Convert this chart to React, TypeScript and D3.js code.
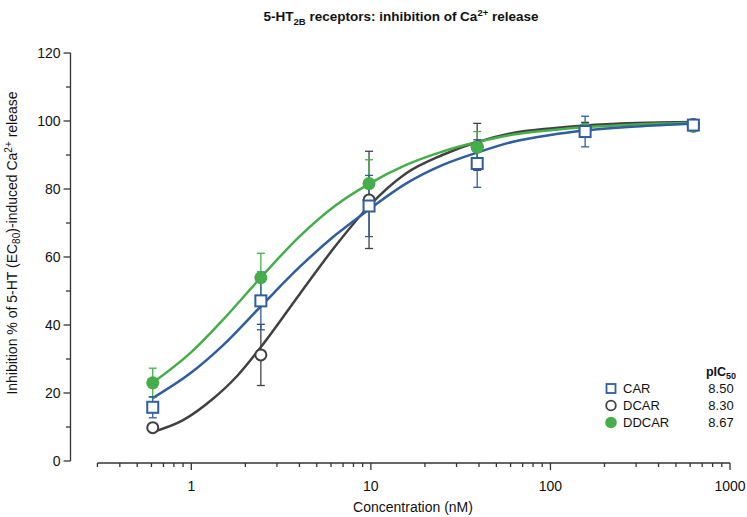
import React from "react";
import * as d3 from "d3";

// ---- data ----
const concentrations = [0.61, 2.44, 9.77, 39.1, 156, 625];
const carMean = [15.8, 47.1, 75.0, 87.5, 96.9, 98.8];
const carSem = [3.1, 8.5, 9.0, 7.0, 4.5, 1.0];
const dcarMean = [9.8, 31.2, 76.8, 92.4, 97.6, 99.0];
const dcarSem = [1.0, 9.0, 14.3, 6.9, 2.0, 0.8];
const ddcarMean = [23.0, 53.9, 81.6, 92.3, 97.6, 98.4];
const ddcarSem = [4.3, 7.2, 7.0, 4.6, 1.5, 0.8];

// fitted curves
const carCurveX = [0.61, 1, 1.5, 2.44, 4, 6.3, 9.77, 15.6, 25, 39.1, 62, 100, 156, 300, 625];
const carCurveY = [18.5, 26, 34, 45.5, 57, 66.3, 74, 81.5, 87, 90.7, 93.9, 95.9, 97.2, 98.4, 99.2];
const dcarCurveX = [0.61, 0.9, 1.3, 1.8, 2.44, 4, 6.3, 9.77, 15.6, 25, 39.1, 62, 100, 156, 300, 625];
const dcarCurveY = [8.5, 12, 18, 25, 33.5, 49, 63, 75, 84.5, 90, 93.8, 96.5, 97.8, 98.7, 99.4, 99.7];
const ddcarCurveX = [0.61, 1, 1.5, 2.44, 4, 6.3, 9.77, 15.6, 25, 39.1, 62, 100, 156, 300, 625];
const ddcarCurveY = [23, 32, 41.5, 54, 66, 75, 81.5, 87, 91, 93.8, 96, 97.3, 98.2, 99, 99.5];

const legendNames = ["CAR", "DCAR", "DDCAR"];
const legendPIC50 = ["8.50", "8.30", "8.67"];

const yTicks = [0, 20, 40, 60, 80, 100, 120];
const yMinorTicks = [10, 30, 50, 70, 90, 110];
const xMajorTicks = [1, 10, 100, 1000];
const xMinorTicks = [
  0.3, 0.4, 0.5, 0.6, 0.7, 0.8, 0.9,
  2, 3, 4, 5, 6, 7, 8, 9,
  20, 30, 40, 50, 60, 70, 80, 90,
  200, 300, 400, 500, 600, 700, 800, 900,
];

const BLUE = "#2f5d9e";
const DARK = "#404040";
const GREEN = "#46ad4b";
const FONT = "Arial, 'Liberation Sans', Helvetica, sans-serif";

export default function App() {
  const W = 747, H = 517;
  const x = d3.scaleLog().domain([0.3, 1000]).range([97.4, 730]);
  const y = d3.scaleLinear().domain([0, 120]).range([461, 53]);
  const xAxisY = 463;
  const yAxisX = 70.5;

  const line = d3
    .line<[number, number]>()
    .x((d) => x(d[0]))
    .y((d) => y(d[1]))
    .curve(d3.curveMonotoneX);

  const series = [
    { name: "DCAR", color: DARK, mean: dcarMean, sem: dcarSem, cx: dcarCurveX, cy: dcarCurveY, shape: "circle" },
    { name: "DDCAR", color: GREEN, mean: ddcarMean, sem: ddcarSem, cx: ddcarCurveX, cy: ddcarCurveY, shape: "filled" },
    { name: "CAR", color: BLUE, mean: carMean, sem: carSem, cx: carCurveX, cy: carCurveY, shape: "square" },
  ];

  const marker = (shape: string, color: string, px: number, py: number, key: string) => {
    if (shape === "square")
      return <rect key={key} x={px - 5.5} y={py - 5.5} width={11} height={11} fill="#fff" stroke={color} strokeWidth={2} />;
    if (shape === "circle")
      return <circle key={key} cx={px} cy={py} r={5.5} fill="#fff" stroke={color} strokeWidth={2} />;
    return <circle key={key} cx={px} cy={py} r={6.5} fill={color} stroke="none" />;
  };

  return (
    <svg width={W} height={H} style={{ position: "absolute", left: 0, top: 0, background: "#fff" }} fontFamily={FONT}>
      {/* Title */}
      <text x={401} y={21} textAnchor="middle" fontSize={13.5} fontWeight="bold" fill="#111">
        5-HT<tspan fontSize={9.5} dy={4}>2B</tspan>
        <tspan dy={-4}> receptors: inhibition of Ca</tspan>
        <tspan fontSize={9.5} dy={-5}>2+</tspan>
        <tspan dy={5}> release</tspan>
      </text>

      {/* Y axis */}
      <line x1={yAxisX} x2={yAxisX} y1={y(120)} y2={y(0)} stroke="#333" strokeWidth={1.3} />
      {yTicks.map((t) => (
        <g key={"yt" + t}>
          <line x1={yAxisX - 7} x2={yAxisX} y1={y(t)} y2={y(t)} stroke="#333" strokeWidth={1.3} />
          <text x={yAxisX - 10} y={y(t)} dy="0.35em" textAnchor="end" fontSize={14} fill="#111">
            {t}
          </text>
        </g>
      ))}
      {yMinorTicks.map((t) => (
        <line key={"ym" + t} x1={yAxisX - 4.5} x2={yAxisX} y1={y(t)} y2={y(t)} stroke="#333" strokeWidth={1.3} />
      ))}
      <text
        transform={`translate(17,${243}) rotate(-90)`}
        textAnchor="middle"
        fontSize={14}
        fill="#111"
      >
        Inhibition % of 5-HT (EC<tspan fontSize={10} dy={3}>80</tspan>
        <tspan dy={-3}>)-induced Ca</tspan>
        <tspan fontSize={10} dy={-5}>2+</tspan>
        <tspan dy={5}> release</tspan>
      </text>

      {/* X axis */}
      <line x1={x(0.3)} x2={x(1000)} y1={xAxisY} y2={xAxisY} stroke="#333" strokeWidth={1.3} />
      {xMinorTicks.map((t) => (
        <line key={"xm" + t} x1={x(t)} x2={x(t)} y1={xAxisY} y2={xAxisY + 4} stroke="#333" strokeWidth={1.3} />
      ))}
      {xMajorTicks.map((t) => (
        <g key={"xt" + t}>
          <line x1={x(t)} x2={x(t)} y1={xAxisY} y2={xAxisY + 7} stroke="#333" strokeWidth={1.3} />
          <text x={x(t)} y={491} textAnchor="middle" fontSize={14} fill="#111">
            {t}
          </text>
        </g>
      ))}
      <text x={413} y={512} textAnchor="middle" fontSize={14} fill="#111">
        Concentration (nM)
      </text>

      {/* Curves */}
      {series.map((s) => (
        <path
          key={"c" + s.name}
          d={line(s.cx.map((c, i) => [c, s.cy[i]] as [number, number])) || ""}
          fill="none"
          stroke={s.color}
          strokeWidth={2.5}
        />
      ))}

      {/* Error bars */}
      {series.map((s) =>
        concentrations.map((c, i) => {
          const px = x(c);
          const top = y(s.mean[i] + s.sem[i]);
          const bot = y(s.mean[i] - s.sem[i]);
          return (
            <g key={"e" + s.name + i} stroke={s.color} strokeWidth={1.3}>
              <line x1={px} x2={px} y1={top} y2={bot} />
              <line x1={px - 4} x2={px + 4} y1={top} y2={top} />
              <line x1={px - 4} x2={px + 4} y1={bot} y2={bot} />
            </g>
          );
        })
      )}

      {/* Markers */}
      {series.map((s) => concentrations.map((c, i) => marker(s.shape, s.color, x(c), y(s.mean[i]), "m" + s.name + i)))}

      {/* Legend */}
      <text x={721} y={376} textAnchor="middle" fontSize={12.5} fontWeight="bold" fill="#111">
        pIC<tspan fontSize={9} dy={3}>50</tspan>
      </text>
      {legendNames.map((n, i) => {
        const ly = 388.5 + i * 17;
        const s = series.find((q) => q.name === n)!;
        return (
          <g key={"l" + n}>
            {s.shape === "square" ? (
              <rect x={606.5} y={ly - 4.5} width={9} height={9} fill="#fff" stroke={s.color} strokeWidth={1.8} />
            ) : s.shape === "circle" ? (
              <circle cx={611} cy={ly} r={4.8} fill="#fff" stroke={s.color} strokeWidth={1.8} />
            ) : (
              <circle cx={611} cy={ly} r={5.8} fill={s.color} />
            )}
            <text x={623} y={ly} dy="0.36em" fontSize={13} fill="#111">
              {n}
            </text>
            <text x={721} y={ly} dy="0.36em" textAnchor="middle" fontSize={13} fill="#111">
              {legendPIC50[i]}
            </text>
          </g>
        );
      })}
    </svg>
  );
}
